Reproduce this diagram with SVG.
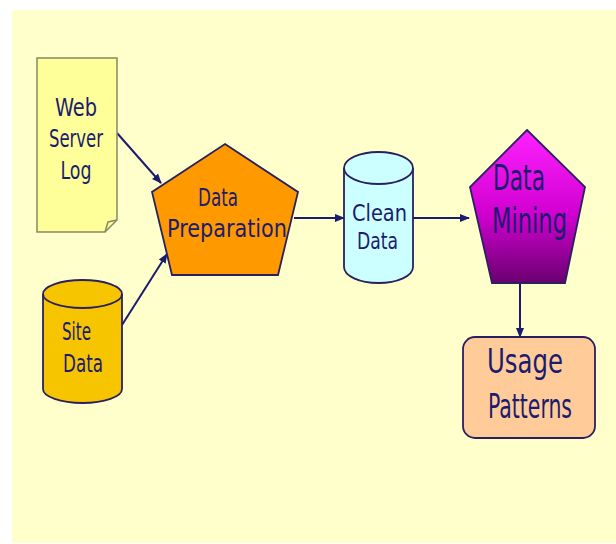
<svg xmlns="http://www.w3.org/2000/svg" width="616" height="544" viewBox="0 0 616 544">
  <defs>
    <linearGradient id="mineGrad" x1="0" y1="0" x2="0" y2="1">
      <stop offset="0" stop-color="#ff22ff"/>
      <stop offset="0.55" stop-color="#d000d0"/>
      <stop offset="1" stop-color="#6a0070"/>
    </linearGradient>
    <marker id="arrow" viewBox="0 0 10 10" refX="9" refY="5" markerWidth="5" markerHeight="5" orient="auto">
      <path d="M0,1 L10,5 L0,9 z" fill="#1c1c6e"/>
    </marker>
  </defs>
  <style>
    .lbl { font-family: "DejaVu Sans Condensed", "Liberation Sans", sans-serif; fill: #1c1c6e; text-anchor: middle; }
    .edge { stroke: #1c1c6e; stroke-width: 2; fill: none; marker-end: url(#arrow); }
    .outline { stroke: #2a2060; stroke-width: 1.8; }
  </style>

  <rect x="12" y="10" width="604" height="533" fill="#ffffcc"/>

  <g id="connectors">
    <line class="edge" x1="117" y1="133" x2="161" y2="183"/>
    <line class="edge" x1="122" y1="325" x2="167" y2="254"/>
    <line class="edge" x1="294" y1="218" x2="344" y2="218"/>
    <line class="edge" x1="413" y1="218" x2="469" y2="218"/>
    <line class="edge" x1="520" y1="283" x2="520" y2="337"/>
  </g>

  <g id="web-server-log">
    <path d="M37,58 H117 V220 L105,232 H37 Z" fill="#ffff99" stroke="#888866" stroke-width="1.5"/>
    <path d="M105,232 L108,222 L117,220" fill="none" stroke="#888866" stroke-width="1.5"/>
    <g class="lbl" font-size="24">
      <text x="76" y="116" textLength="42" lengthAdjust="spacingAndGlyphs">Web</text>
      <text x="76" y="147" textLength="54" lengthAdjust="spacingAndGlyphs">Server</text>
      <text x="76" y="179" textLength="31" lengthAdjust="spacingAndGlyphs">Log</text>
    </g>
  </g>

  <g id="site-data">
    <path d="M43,294 V389 A39.5,14 0 0 0 122,389 V294" fill="#f7c400" class="outline"/>
    <ellipse cx="82.5" cy="294" rx="39.5" ry="14" fill="#f7c400" class="outline"/>
    <g class="lbl" font-size="24">
      <text x="76.5" y="340" textLength="29" lengthAdjust="spacingAndGlyphs">Site</text>
      <text x="83" y="372" textLength="40" lengthAdjust="spacingAndGlyphs">Data</text>
    </g>
  </g>

  <g id="data-preparation">
    <polygon points="225,144 298,192 278,275 172,275 152,192" fill="#ff9900" class="outline"/>
    <g class="lbl" font-size="25">
      <text x="218" y="206" textLength="40" lengthAdjust="spacingAndGlyphs">Data</text>
      <text x="227" y="237" textLength="120" lengthAdjust="spacingAndGlyphs">Preparation</text>
    </g>
  </g>

  <g id="clean-data">
    <path d="M344,168 V267 A34.5,16 0 0 0 413,267 V168" fill="#ccffff" class="outline"/>
    <ellipse cx="378.5" cy="168" rx="34.5" ry="16" fill="#ccffff" class="outline"/>
    <g class="lbl" font-size="23">
      <text x="379.5" y="221" textLength="55" lengthAdjust="spacingAndGlyphs">Clean</text>
      <text x="377.5" y="249" textLength="41" lengthAdjust="spacingAndGlyphs">Data</text>
    </g>
  </g>

  <g id="data-mining">
    <polygon points="527,130 585,187 565,283 492,283 470,187" fill="url(#mineGrad)" class="outline"/>
    <g class="lbl" font-size="35">
      <text x="519" y="190" textLength="52" lengthAdjust="spacingAndGlyphs">Data</text>
      <text x="529.5" y="233" textLength="75" lengthAdjust="spacingAndGlyphs">Mining</text>
    </g>
  </g>

  <g id="usage-patterns">
    <rect x="463" y="337" width="132" height="101" rx="12" fill="#ffcc99" class="outline"/>
    <g class="lbl" font-size="33">
      <text x="525" y="373" textLength="76" lengthAdjust="spacingAndGlyphs">Usage</text>
      <text x="530" y="418" textLength="84" lengthAdjust="spacingAndGlyphs">Patterns</text>
    </g>
  </g>
</svg>
